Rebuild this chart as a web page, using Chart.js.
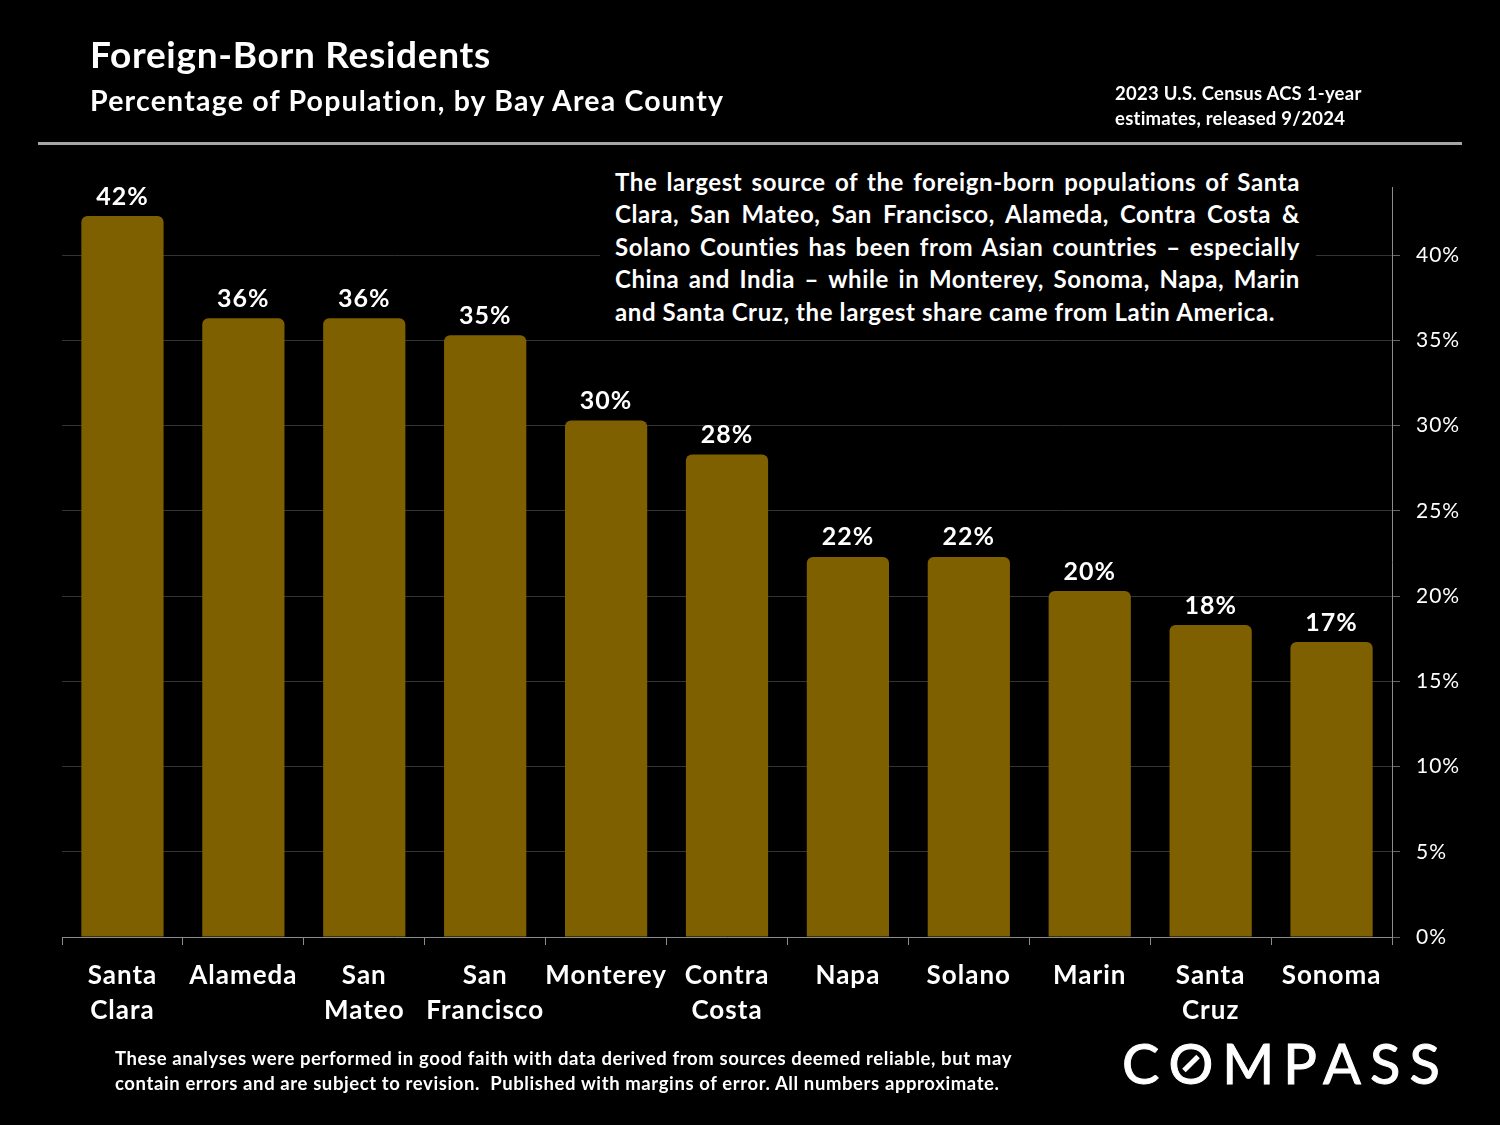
<!DOCTYPE html>
<html>
<head>
<meta charset="utf-8">
<title>Foreign-Born Residents</title>
<script src="https://cdn.jsdelivr.net/npm/chart.js@4"></script>
<style>
    html, body { margin: 0; padding: 0; background: #000; }
    #page { position: relative; width: 1500px; height: 1125px; background: #000; overflow: hidden; color: #fff; font-family: Lato, sans-serif; font-weight: 700; }
    #page div { position: absolute; }
    canvas { position: absolute; left: 0; top: 0; }
    #title { left: 90px; top: 32px; font-size: 37px; letter-spacing: 0.7px; line-height: 44px; white-space: nowrap; }
    #subtitle { left: 90px; top: 82px; font-size: 28.5px; letter-spacing: 1.2px; line-height: 36px; white-space: nowrap; }
    #source { left: 1115px; top: 81px; font-size: 18.5px; letter-spacing: 0.25px; line-height: 25px; white-space: nowrap; }
    #rule { left: 38px; top: 142px; width: 1424px; height: 3px; background: #a6a6a6; }
    #note { left: 600px; top: 166px; width: 716px; height: 164px; background: #000; }
    #noteText { left: 15px; top: 0; width: 685px; font-size: 24px; letter-spacing: 0.6px; line-height: 32.4px; text-align: justify; }
    #disclaimer { left: 115px; top: 1046px; font-size: 18.5px; letter-spacing: 0.6px; line-height: 25px; white-space: nowrap; }
    #logo { left: 1122px; top: 1027px; font-size: 56px; line-height: 72px; font-weight: 400; letter-spacing: 9px; -webkit-text-stroke: 1px #fff; white-space: nowrap; }
    #logo span { position: relative; display: inline-block; }
    #logo span::after { content: ""; position: absolute; left: 50%; top: 50%; width: 20px; height: 5px; margin: -2px 0 0 -14px; background: #fff; transform: rotate(-45deg); }
</style>
</head>
<body>
<div id="page">
    <canvas id="barChart" width="1500" height="1125"></canvas>
    <div id="title">Foreign-Born Residents</div>
    <div id="subtitle">Percentage of Population, by Bay Area County</div>
    <div id="source">2023 U.S. Census ACS 1-year<br>estimates, released 9/2024</div>
    <div id="rule"></div>
    <div id="note"><div id="noteText">The largest source of the foreign-born populations of Santa Clara, San Mateo, San Francisco, Alameda, Contra Costa &amp; Solano Counties has been from Asian countries – especially China and India – while in Monterey, Sonoma, Napa, Marin and Santa Cruz, the largest share came from Latin America.</div></div>
    <div id="disclaimer">These analyses were performed in good faith with data derived from sources deemed reliable, but may<br>contain errors and are subject to revision.&nbsp; Published with margins of error. All numbers approximate.</div>
    <div id="logo">C<span>O</span>MPASS</div>
</div>
<script>
const counties = [["Santa", "Clara"], "Alameda", ["San", "Mateo"], ["San", "Francisco"], "Monterey", ["Contra", "Costa"], "Napa", "Solano", "Marin", ["Santa", "Cruz"], "Sonoma"];
const foreignBorn = [42.3, 36.3, 36.3, 35.3, 30.3, 28.3, 22.3, 22.3, 20.3, 18.3, 17.3];
const valueLabels = ["42%", "36%", "36%", "35%", "30%", "28%", "22%", "22%", "20%", "18%", "17%"];

// draws the number above each bar
const barLabels = {
    id: 'barLabels',
    afterDatasetsDraw(chart) {
        const ctx = chart.ctx;
        ctx.save();
        ctx.fillStyle = '#fff';
        ctx.font = '700 25px Lato';
        ctx.textAlign = 'center';
        ctx.textBaseline = 'bottom';
        chart.getDatasetMeta(0).data.forEach((bar, i) => {
            ctx.fillText(valueLabels[i], bar.x, bar.y - 7);
        });
        ctx.restore();
    }
};

// axis labels in the original are set a little looser than the font's default
const looseText = {
    id: 'looseText',
    beforeDraw(chart) {
        chart.ctx.letterSpacing = '1px';
    }
};

new Chart(document.getElementById('barChart').getContext('2d'), {
    type: 'bar',
    data: {
        labels: counties,
        datasets: [{
            data: foreignBorn,
            backgroundColor: '#7f6000',
            barPercentage: 0.68,
            categoryPercentage: 1,
            borderRadius: { topLeft: 6, topRight: 6 }
        }]
    },
    options: {
        responsive: false,
        animation: false,
        devicePixelRatio: 1,
        layout: { padding: { left: 62, top: 187 } },
        plugins: { legend: { display: false }, tooltip: { enabled: false } },
        scales: {
            x: {
                afterFit: scale => { scale.height = 188; },
                grid: { drawOnChartArea: false, tickLength: 8, tickColor: '#8c8c8c', offset: true },
                border: { color: '#8c8c8c', z: 1 },
                ticks: {
                    color: '#fff',
                    maxRotation: 0,
                    autoSkip: false,
                    padding: 13,
                    font: { family: 'Lato', weight: '700', size: 26, lineHeight: 1.346 }
                }
            },
            y: {
                position: 'right',
                min: 0,
                max: 44,
                afterFit: scale => { scale.width = 108; },
                grid: { color: '#333', tickColor: '#666', tickLength: 8 },
                border: { color: '#8c8c8c' },
                ticks: {
                    stepSize: 5,
                    includeBounds: false,
                    color: '#fff',
                    padding: 16,
                    font: { family: 'Lato', weight: '400', size: 21 },
                    callback: value => `${value}%`
                }
            }
        }
    },
    plugins: [barLabels, looseText]
});
</script>
</body>
</html>
